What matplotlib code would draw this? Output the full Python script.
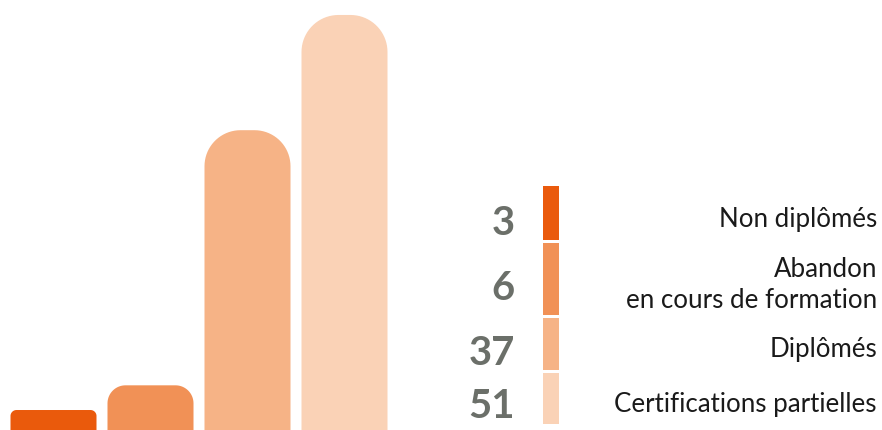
import matplotlib.pyplot as plt
from matplotlib.patches import Polygon, Rectangle
import numpy as np

# data
categories = ["Non diplômés", "Abandon\nen cours de formation", "Diplômés", "Certifications partielles"]
values = [3, 6, 37, 51]
colors = ["#EA5A0C", "#F19156", "#F6B386", "#FAD2B6"]

# style
corner_px = [6, 18, 36, 37]
W, H = 882, 430
px_per_x = 97.0           # one category step in pixels
px_per_y = 8.23           # one unit of value in pixels
x0_px = 53.5              # centre of the first bar
base_px = -4.7            # baseline sits a bit below the image edge
bar_w = 86 / px_per_x

plt.rcParams['font.family'] = ['Lato', 'DejaVu Sans']

fig = plt.figure(figsize=(W / 100, H / 100), dpi=100)
ax = fig.add_axes([0, 0, 1, 1])
ax.set_xlim(-x0_px / px_per_x, (W - x0_px) / px_per_x)
ax.set_ylim(-base_px / px_per_y, (H - base_px) / px_per_y)
ax.axis("off")


def rounded_bar(x, h, r_px, color):
    rx = r_px / px_per_x
    ry = r_px / px_per_y
    left, right = x - bar_w / 2, x + bar_w / 2
    t = np.linspace(0, np.pi / 2, 20)
    pts = [(left, -5)]
    # top-left corner
    pts += list(zip(left + rx - rx * np.cos(t), h - ry + ry * np.sin(t)))
    # top-right corner
    pts += list(zip(right - rx + rx * np.sin(t), h - ry + ry * np.cos(t)))
    pts.append((right, -5))
    ax.add_patch(Polygon(pts, closed=True, facecolor=color, edgecolor="none"))


for i, (v, c, r) in enumerate(zip(values, colors, corner_px)):
    rounded_bar(i, v, r, c)

# legend strip, numbers and labels (pixel coordinates)
leg = fig.add_axes([0, 0, 1, 1], facecolor="none")
leg.set_xlim(0, W)
leg.set_ylim(H, 0)
leg.axis("off")

seg_top = [186, 243, 318, 373]
seg_bot = [240, 315, 370, 424]
num_base = [235, 300, 365, 418]
lab_base = [227, 308, 357, 412]

for i in range(len(values)):
    leg.add_patch(Rectangle((543, seg_top[i]), 16, seg_bot[i] - seg_top[i],
                            facecolor=colors[i], edgecolor="none"))
    leg.text(515, num_base[i], str(values[i]), ha="right", va="baseline",
             fontsize=28.8, fontweight="bold", color="#6B6F69")
    leg.text(877, lab_base[i], categories[i], ha="right", va="baseline",
             fontsize=18.6, color="#1a1a1a", linespacing=1.3, multialignment="right")

fig.savefig("out.png", dpi=100)
